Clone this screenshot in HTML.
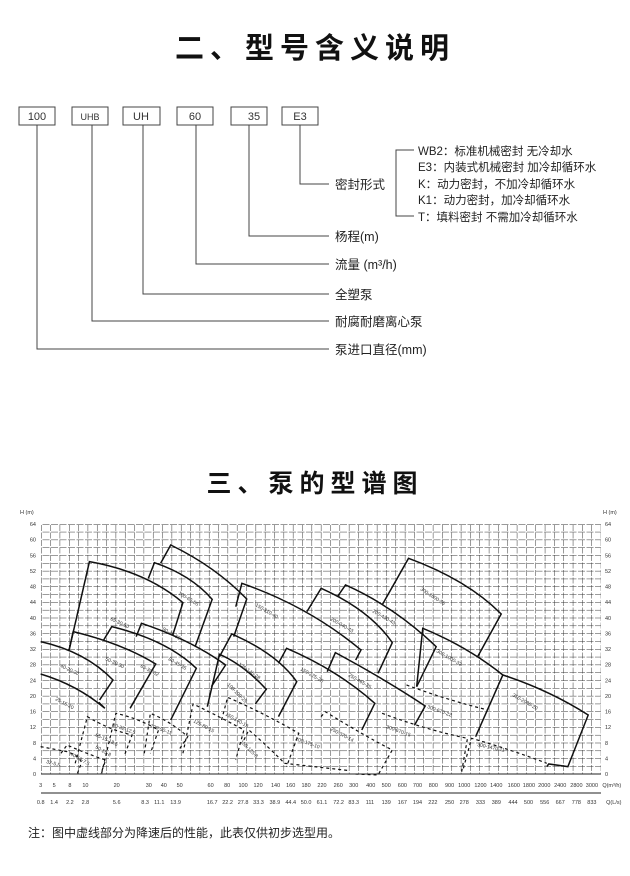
<!DOCTYPE html>
<html><head><meta charset="utf-8"><style>
html,body{margin:0;padding:0;background:#fff;}
body{width:630px;height:876px;position:relative;overflow:hidden;font-family:"Liberation Sans","Noto Sans CJK SC",sans-serif;color:#222;}
</style></head><body>
<svg width="630" height="876" xmlns="http://www.w3.org/2000/svg" style="position:absolute;left:0;top:0">
<defs>
<pattern id="gv" x="41" y="0" width="9.33" height="876" patternUnits="userSpaceOnUse"><line x1="0" y1="0" x2="0" y2="876" stroke="#333" stroke-width="1" stroke-dasharray="6,1.5"/></pattern>
<pattern id="gh" x="0" y="524" width="630" height="7.8125" patternUnits="userSpaceOnUse"><line x1="0" y1="0" x2="630" y2="0" stroke="#333" stroke-width="1" stroke-dasharray="7,1.5"/></pattern>
</defs>
<g font-family="Liberation Sans,Noto Sans CJK SC,sans-serif">
<text x="315" y="58" text-anchor="middle" font-size="29" font-weight="bold" letter-spacing="6" fill="#111" font-family="Noto Sans CJK SC,sans-serif">二、型号含义说明</text>
<g fill="#fff" stroke="#444" stroke-width="1">
<rect x="19" y="107" width="36" height="18"/><rect x="72" y="107" width="36" height="18"/><rect x="123" y="107" width="37" height="18"/>
<rect x="177" y="107" width="36" height="18"/><rect x="231" y="107" width="36" height="18"/><rect x="282" y="107" width="36" height="18"/>
</g>
<g font-size="11" fill="#333" text-anchor="middle">
<text x="37" y="120">100</text><text x="90" y="120" font-size="9">UHB</text><text x="141" y="120">UH</text><text x="195" y="120">60</text><text x="254" y="120">35</text><text x="300" y="120">E3</text>
</g>
<g fill="none" stroke="#444" stroke-width="1">
<polyline points="37,125 37,349 329,349"/><polyline points="92,125 92,321 329,321"/><polyline points="143,125 143,294 329,294"/>
<polyline points="196,125 196,264 329,264"/><polyline points="249,125 249,236 329,236"/><polyline points="300,125 300,184 329,184"/>
<polyline points="414,150 396,150 396,216 414,216"/>
</g>
<g font-size="12.5" fill="#222">
<text x="335" y="189">密封形式</text><text x="335" y="241">杨程(m)</text><text x="335" y="269">流量 (m³/h)</text>
<text x="335" y="299">全塑泵</text><text x="335" y="326">耐腐耐磨离心泵</text><text x="335" y="354">泵进口直径(mm)</text>
</g>
<g font-size="11.5" fill="#222">
<text x="418" y="155">WB2：标准机械密封 无冷却水</text><text x="418" y="171">E3：内装式机械密封 加冷却循环水</text>
<text x="418" y="188">K：动力密封，不加冷却循环水</text><text x="418" y="204">K1：动力密封，加冷却循环水</text>
<text x="418" y="221">T：填料密封 不需加冷却循环水</text>
</g>
<text x="315" y="492" text-anchor="middle" font-size="25" font-weight="bold" letter-spacing="6" fill="#111" font-family="Noto Sans CJK SC,sans-serif">三、泵的型谱图</text>

<rect x="41" y="524" width="560" height="250" fill="url(#gv)"/>
<rect x="41" y="524" width="560" height="250" fill="url(#gh)"/>
<line x1="41" y1="774" x2="601" y2="774" stroke="#222"/>
<line x1="41" y1="793" x2="601" y2="793" stroke="#222"/>
<g font-size="5.5" fill="#333">
<text x="20" y="514">H (m)</text><text x="603" y="514">H (m)</text>
</g>
<g font-size="5.5" fill="#333" text-anchor="end" id="yl"></g>
<g font-size="5.5" fill="#333" id="yr"></g>
<g font-size="5.5" fill="#333" text-anchor="middle" id="xl"></g>

<g transform="matrix(0.4065 0 0 0.3333 0 500)" fill="none" stroke="#111">
<g>
<path vector-effect="non-scaling-stroke" stroke-width="1.5" d="M100,522 Q190,555 258,625 L243,607"/>
<path vector-effect="non-scaling-stroke" stroke-width="1.5" d="M100,425 Q210,455 278,540 L245,600"/>
<path vector-effect="non-scaling-stroke" stroke-width="1.5" d="M170,450 L180,395 Q300,430 383,492 L320,625"/>
<path vector-effect="non-scaling-stroke" stroke-width="1.5" d="M170,450 L220,185 Q360,215 450,308 L425,405"/>
<path vector-effect="non-scaling-stroke" stroke-width="1.5" d="M255,420 L275,380 Q410,420 483,505 L420,660"/>
<path vector-effect="non-scaling-stroke" stroke-width="1.5" d="M335,410 L348,370 Q470,420 555,495 L520,560"/>
<path vector-effect="non-scaling-stroke" stroke-width="1.5" d="M365,235 L380,188 Q470,225 522,298 L480,440"/>
<path vector-effect="non-scaling-stroke" stroke-width="1.5" d="M395,190 L420,135 Q530,200 607,297 L575,410"/>
<path vector-effect="non-scaling-stroke" stroke-width="1.5" d="M580,320 L595,250 Q760,320 888,450 L875,480"/>
<path vector-effect="non-scaling-stroke" stroke-width="1.5" d="M540,470 L570,402 Q680,460 730,545 L685,650"/>
<path vector-effect="non-scaling-stroke" stroke-width="1.5" d="M510,620 L540,463 Q600,495 655,568 L628,612"/>
<path vector-effect="non-scaling-stroke" stroke-width="1.5" d="M685,490 L705,445 Q830,510 922,610 L890,690"/>
<path vector-effect="non-scaling-stroke" stroke-width="1.5" d="M755,335 L790,265 Q910,330 965,428 L930,520"/>
<path vector-effect="non-scaling-stroke" stroke-width="1.5" d="M830,290 L850,255 Q970,320 1073,440 L1025,560"/>
<path vector-effect="non-scaling-stroke" stroke-width="1.5" d="M805,515 L825,458 Q950,540 1046,618 L1020,675"/>
<path vector-effect="non-scaling-stroke" stroke-width="1.5" d="M940,315 L1005,175 Q1150,240 1233,342 L1175,470"/>
<path vector-effect="non-scaling-stroke" stroke-width="1.5" d="M1025,560 L1040,385 Q1150,440 1237,525 L1170,710"/>
<path vector-effect="non-scaling-stroke" stroke-width="1.5" d="M1237,525 Q1350,570 1447,645 L1397,800 L1350,792 L1345,800"/>
</g>
<g stroke-dasharray="3,3">
<path vector-effect="non-scaling-stroke" stroke-width="1.2" d="M100,740 L165,755 Q200,770 200,790 L190,822"/>
<path vector-effect="non-scaling-stroke" stroke-width="1.2" d="M150,760 L165,735 Q210,760 260,780 L248,822"/>
<path vector-effect="non-scaling-stroke" stroke-width="1.2" d="M185,790 L215,650 Q270,690 325,705 L305,770"/>
<path vector-effect="non-scaling-stroke" stroke-width="1.2" d="M250,820 L285,640 Q340,655 390,690 L370,760"/>
<path vector-effect="non-scaling-stroke" stroke-width="1.2" d="M355,760 L370,640 Q420,665 462,710 L440,750"/>
<path vector-effect="non-scaling-stroke" stroke-width="1.2" d="M450,760 L475,612 Q540,650 600,690 L580,780"/>
<path vector-effect="non-scaling-stroke" stroke-width="1.2" d="M545,660 L560,592 Q650,640 735,700 L705,800"/>
<path vector-effect="non-scaling-stroke" stroke-width="1.2" d="M600,720 L612,690 Q660,740 700,790 L860,812"/>
<path vector-effect="non-scaling-stroke" stroke-width="1.2" d="M790,650 L800,635 Q900,710 965,750 L930,825 L870,822"/>
<path vector-effect="non-scaling-stroke" stroke-width="1.2" d="M1000,555 Q1100,600 1200,630"/>
<path vector-effect="non-scaling-stroke" stroke-width="1.2" d="M940,640 Q1050,690 1150,715 L1135,820"/>
<path vector-effect="non-scaling-stroke" stroke-width="1.2" d="M1140,805 L1160,715 Q1260,750 1345,790"/>
</g>
</g>
<g font-size="5" fill="#333">
<text transform="translate(55,700) rotate(28)">25-15-20</text>
<text transform="translate(60,667) rotate(25)">40-20-30</text>
<text transform="translate(110,620) rotate(25)">65-30-50</text>
<text transform="translate(105,660) rotate(25)">50-30-30</text>
<text transform="translate(140,667) rotate(28)">65-30-32</text>
<text transform="translate(162,630) rotate(30)">80-40-50</text>
<text transform="translate(178,594) rotate(32)">100-65-55</text>
<text transform="translate(168,660) rotate(30)">80-45-35</text>
<text transform="translate(255,606) rotate(30)">150-110-40</text>
<text transform="translate(238,665) rotate(35)">125-140-28</text>
<text transform="translate(227,685) rotate(45)">100-100-25</text>
<text transform="translate(300,670) rotate(30)">150-225-28</text>
<text transform="translate(330,620) rotate(30)">200-340-43</text>
<text transform="translate(372,612) rotate(30)">200-430-43</text>
<text transform="translate(348,676) rotate(30)">250-465-25</text>
<text transform="translate(420,590) rotate(33)">300-1000-55</text>
<text transform="translate(436,652) rotate(30)">300-1000-32</text>
<text transform="translate(512,696) rotate(30)">350-2080-20</text>
<text transform="translate(427,708) rotate(20)">300-670-22</text>
<text transform="translate(386,728) rotate(20)">300-670-15</text>
<text transform="translate(477,746) rotate(12)">300-1470-11</text>
<text transform="translate(330,730) rotate(28)">250-370-14</text>
<text transform="translate(295,740) rotate(20)">200-175-10</text>
<text transform="translate(240,742) rotate(45)">150-125-8</text>
<text transform="translate(193,722) rotate(28)">125-80-15</text>
<text transform="translate(225,715) rotate(30)">150-140-19</text>
<text transform="translate(150,727) rotate(20)">100-50-11</text>
<text transform="translate(112,726) rotate(20)">80-32-12.5</text>
<text transform="translate(95,736) rotate(25)">65-15-18.5</text>
<text transform="translate(95,748) rotate(30)">50-15-8</text>
<text transform="translate(70,755) rotate(30)">40-10-7.5</text>
<text transform="translate(46,763) rotate(15)">32-5.5</text>
</g>
<text x="28" y="837" font-size="12" fill="#222" font-family="Noto Sans CJK SC,sans-serif">注：图中虚线部分为降速后的性能，此表仅供初步选型用。</text>
</g>
</svg>
<script>
(function(){
var ns="http://www.w3.org/2000/svg";
function t(g,x,y,s){var e=document.createElementNS(ns,"text");e.setAttribute("x",x);e.setAttribute("y",y);e.textContent=s;document.getElementById(g).appendChild(e);}
for(var v=0;v<=64;v+=4){var y=774-v*250/64+2;t("yl",36,y,v);t("yr",605,y,v);}
var top=[[100,"3"],[133,"5"],[172,"8"],[210,"10"],[287,"20"],[366,"30"],[403,"40"],[442,"50"],[518,"60"],[559,"80"],[598,"100"],[635,"120"],[678,"140"],[715,"160"],[753,"180"],[792,"220"],[832,"260"],[870,"300"],[912,"400"],[950,"500"],[990,"600"],[1027,"700"],[1066,"800"],[1106,"900"],[1142,"1000"],[1182,"1200"],[1221,"1400"],[1264,"1600"],[1301,"1800"],[1339,"2000"],[1378,"2400"],[1418,"2800"],[1456,"3000"],[1505,"Q(m³/h)"]];
var bot=[[100,"0.8"],[133,"1.4"],[172,"2.2"],[210,"2.8"],[287,"5.6"],[357,"8.3"],[392,"11.1"],[432,"13.9"],[522,"16.7"],[560,"22.2"],[598,"27.8"],[636,"33.3"],[676,"38.9"],[715,"44.4"],[753,"50.0"],[792,"61.1"],[833,"72.2"],[870,"83.3"],[910,"111"],[950,"139"],[990,"167"],[1027,"194"],[1065,"222"],[1106,"250"],[1142,"278"],[1182,"333"],[1221,"389"],[1262,"444"],[1300,"500"],[1340,"556"],[1378,"667"],[1418,"778"],[1456,"833"],[1510,"Q(L/s)"]];
top.forEach(function(a){t("xl",(a[0]/2.46).toFixed(1),787,a[1]);});
bot.forEach(function(a){t("xl",(a[0]/2.46).toFixed(1),804,a[1]);});
})();
</script>
</body></html>
